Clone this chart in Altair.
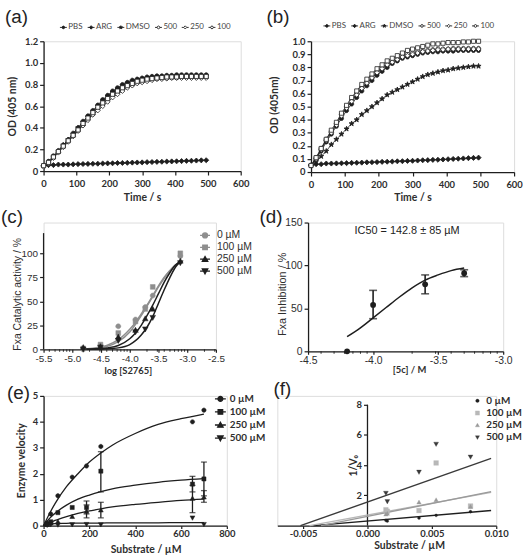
import altair as alt
import pandas as pd

INK = "#1e1e1e"
GREY = "#8e8e8e"
TXT = "#2e2e2e"
ARIAL = "Liberation Sans"
HUM = "Lato"

# ---------------- data ----------------
# (a), (b): absorbance time courses
time_s = [0, 15, 30, 45, 60, 75, 90, 105, 120, 135, 150, 165, 180, 195, 210, 225, 240,
          255, 270, 285, 300, 315, 330, 345, 360, 375, 390, 405, 420, 435, 450, 465, 480, 495]
ab_series = ["PBS", "ARG", "DMSO", "500", "250", "100"]

a_pbs = [.05, .09, .14, .19, .24, .29, .35, .40, .46, .51, .56, .61, .66, .70, .74, .77, .80,
         .82, .84, .85, .86, .87, .875, .88, .88, .885, .885, .89, .89, .89, .89, .89, .89, .89]
a_arg = [.05, .055, .055, .06, .06, .06, .062, .064, .065, .066, .067, .068, .07, .071, .072, .074, .075,
         .076, .078, .079, .08, .082, .083, .085, .086, .088, .089, .09, .092, .094, .095, .097, .099, .10]
a_dmso = [.05, .08, .13, .18, .24, .29, .34, .40, .45, .50, .55, .60, .65, .69, .73, .76, .79,
          .81, .83, .84, .85, .86, .865, .87, .87, .875, .875, .88, .88, .88, .88, .88, .88, .88]
a_500 = [.05, .08, .13, .18, .23, .28, .33, .38, .43, .48, .53, .58, .62, .66, .70, .73, .76,
         .78, .80, .82, .83, .84, .85, .855, .86, .86, .865, .865, .87, .87, .87, .87, .87, .87]
a_250 = [.04, .07, .12, .17, .22, .27, .32, .37, .42, .47, .52, .56, .60, .64, .68, .71, .74,
         .77, .79, .81, .82, .83, .84, .85, .85, .855, .86, .86, .86, .86, .86, .86, .86, .86]
a_100 = [.05, .08, .13, .18, .23, .28, .33, .38, .44, .49, .54, .59, .63, .67, .71, .74, .77,
         .79, .81, .83, .84, .85, .855, .86, .865, .87, .87, .87, .875, .875, .875, .875, .875, .875]

b_pbs = [.05, .10, .16, .23, .29, .35, .41, .47, .52, .57, .62, .66, .70, .74, .77, .80, .83,
         .85, .87, .88, .89, .90, .91, .915, .92, .92, .925, .925, .925, .93, .93, .93, .93, .93]
b_arg = [.05, .06, .06, .065, .065, .066, .067, .068, .07, .071, .072, .074, .075, .076, .078, .079, .08,
         .082, .083, .085, .086, .088, .09, .091, .093, .094, .096, .098, .10, .102, .104, .106, .108, .11]
b_dmso = [.05, .08, .12, .16, .21, .25, .29, .33, .37, .40, .44, .47, .50, .53, .56, .59, .61,
          .63, .65, .67, .69, .71, .73, .745, .755, .765, .775, .78, .79, .795, .80, .805, .81, .81]
b_500 = [.05, .11, .18, .25, .31, .37, .44, .50, .55, .60, .65, .69, .73, .77, .80, .83, .85,
         .87, .89, .90, .91, .92, .925, .93, .935, .94, .94, .94, .945, .945, .945, .945, .945, .945]
b_250 = [.05, .10, .17, .24, .30, .36, .43, .49, .54, .59, .64, .68, .72, .76, .79, .82, .84,
         .86, .88, .89, .90, .91, .92, .925, .93, .935, .935, .94, .94, .94, .94, .94, .94, .94]
b_100 = [.05, .11, .18, .25, .32, .38, .45, .51, .57, .62, .67, .71, .75, .79, .82, .85, .87,
         .89, .91, .93, .94, .95, .96, .97, .98, .98, .985, .99, .99, .99, .995, .995, 1.0, 1.0]

# (c): FXa activity vs log substrate
conc_series = ["0 µM", "100 µM", "250 µM", "500 µM"]
c_logS = [-4.81, -4.51, -4.20, -3.90, -3.73, -3.60, -3.12]
c_0 = [0, 4, 24, 31, 44, 56, 97]
c_100 = [1, 5, 17, 29, 42, 65, 100]
c_250 = [2, 3, 13, 20, 32, 42, 92]
c_500 = [0, 2, 9, 18, 21, 33, 90]
c_fit_x = [-4.81, -4.6, -4.4, -4.2, -4.0, -3.9, -3.8, -3.7, -3.6, -3.5, -3.4, -3.3, -3.2, -3.12]
c_fit_0 = [0.5, 1.5, 4, 10, 21, 28, 37, 46, 56, 66, 75, 82, 88, 91]
c_fit_100 = [0.3, 1, 3, 8, 18, 26, 35, 45, 55, 65, 74, 82, 88, 91]
c_fit_250 = [0, 0.5, 1.5, 4, 11, 17, 25, 35, 46, 58, 70, 80, 88, 91]
c_fit_500 = [0, 0.2, 0.5, 1.5, 5, 9, 15, 23, 34, 48, 62, 75, 86, 91]
c_minor = [-5.40, -5.30, -5.22, -5.155, -5.097, -5.046, -4.70, -4.52, -4.40, -4.30, -4.22, -4.155,
           -4.097, -4.046, -3.70, -3.52, -3.40, -3.30, -3.22, -3.155, -3.097, -3.046, -2.70, -2.52]

# (d): inhibition vs log [5c]
d_log5c = [-4.2, -4.0, -3.6, -3.3]
d_inhib = [0, 54, 78, 91]
d_err_x = [-4.0, -3.6, -3.3]
d_err_lo = [38, 67, 87]
d_err_hi = [71, 89, 95]
d_fit_x = [-4.2, -4.1, -4.0, -3.9, -3.8, -3.7, -3.6, -3.5, -3.4, -3.3]
d_fit_y = [17, 27, 39, 51, 63, 74, 83, 89, 94, 97]
d_minor = [-4.40, -4.30, -4.22, -4.155, -4.097, -4.046, -3.70, -3.52, -3.40, -3.30, -3.22,
           -3.155, -3.097, -3.046]

# (e): Michaelis-Menten velocities
e_sub = [15.6, 31.25, 62.5, 125, 187.5, 250, 650, 700]
e_0 = [0.1, 0.45, 1.15, 1.87, 2.3, 3.05, 4.0, 4.45]
e_100 = [0.05, 0.15, 0.5, 0.7, 0.7, 2.1, 1.6, 1.8]
e_250 = [0.05, 0.1, 0.15, 0.35, 0.55, 0.6, 1.05, 1.1]
e_500 = [0.02, 0.04, 0.03, 0.04, 0.05, 0.04, 0.3, 0.05]
e_err_x = [187.5, 187.5, 250, 250, 650, 650, 700, 700]
e_err_lo = [0.45, 0.3, 1.3, 0.3, 1.3, 0.5, 1.15, 0.9]
e_err_hi = [0.95, 0.8, 2.85, 0.9, 1.9, 1.55, 2.45, 1.35]
e_fit_x = [0, 25, 50, 100, 150, 200, 250, 300, 400, 500, 600, 700]
e_fit_0 = [0, 0.45, 0.85, 1.5, 2.0, 2.45, 2.8, 3.1, 3.55, 3.9, 4.12, 4.3]
e_fit_100 = [0, 0.27, 0.48, 0.79, 1.02, 1.18, 1.31, 1.42, 1.56, 1.67, 1.75, 1.81]
e_fit_250 = [0, 0.1, 0.2, 0.35, 0.47, 0.57, 0.65, 0.72, 0.82, 0.9, 0.97, 1.02]
e_fit_500 = [0, 0.06, 0.08, 0.09, 0.1, 0.1, 0.1, 0.11, 0.11, 0.11, 0.12, 0.12]

# (f): double-reciprocal plot
f_inv_s = [0.00143, 0.00154, 0.004, 0.00533, 0.008]
f_0 = [0.35, 0.3, 0.5, 0.68, 0.92]
f_100 = [1.05, 0.95, 1.0, 4.15, 1.3]
f_250 = [0.75, 0.8, 1.55, 1.7, 1.25]
f_500 = [2.15, 1.6, 3.55, 5.4, 4.55]
f_line_x0 = [-0.0042, -0.0045, -0.0036, -0.0052]
f_line_x1 = [0.0096, 0.0096, 0.0096, 0.0096]
f_line_y1 = [1.0, 2.2, 2.25, 4.45]


# ---------------- helpers ----------------
def long(xs, cols, names, xname, yname):
    rows = []
    for n, ys in zip(names, cols):
        for x, y in zip(xs, ys):
            rows.append({xname: x, yname: y, "s": n})
    return pd.DataFrame(rows)


def num(v):
    return f"{v:.3f}".rstrip("0").rstrip(".")


def circle_path(r):
    return f"M{num(r)},0A{num(r)},{num(r)} 0 1,1 {num(-r)},0A{num(r)},{num(r)} 0 1,1 {num(r)},0Z"


def square_path(r):
    return f"M{num(-r)},{num(-r)}H{num(r)}V{num(r)}H{num(-r)}Z"


def diamond_path(r):
    return f"M0,{num(-r)}L{num(r)},0L0,{num(r)}L{num(-r)},0Z"


def tri_up_path(r):
    return f"M0,{num(-r)}L{num(r)},{num(0.8 * r)}L{num(-r)},{num(0.8 * r)}Z"


def tri_down_path(r):
    return f"M0,{num(r)}L{num(r)},{num(-0.8 * r)}L{num(-r)},{num(-0.8 * r)}Z"


def star_path(r):
    pts = [(0, -1), (0.24, -0.33), (0.95, -0.31), (0.38, 0.12), (0.59, 0.81), (0, 0.4),
           (-0.59, 0.81), (-0.38, 0.12), (-0.95, -0.31), (-0.24, -0.33)]
    return "M" + "L".join(f"{num(x * r)},{num(y * r)}" for x, y in pts) + "Z"


def stub(marker, r, hollow=False):
    if hollow:
        return f"M-1,0H{num(-r)}M{num(r)},0H1" + marker
    return "M-1,0H1" + marker


def axis(**kw):
    base = dict(grid=False, domainColor=INK, domainWidth=1.3, tickColor=INK, tickWidth=1.2,
                tickSize=4, labelColor=TXT, titleColor=TXT, labelPadding=2, titleAlign="center",
                titleBaseline="middle", labelFlush=False, labelOverlap=False)
    base.update(kw)
    return alt.Axis(**base)


BOLD = dict(labelFont=HUM, labelFontWeight="bold", labelFontSize=9.5,
            titleFont=HUM, titleFontWeight="bold", titleFontSize=10.5)
PLAIN = dict(labelFont=ARIAL, labelFontWeight="normal", labelFontSize=10,
             titleFont=ARIAL, titleFontWeight="normal", titleFontSize=10.5)

one = pd.DataFrame({"k": [0]})


def tag(text, dx, dy):
    return alt.Chart(one).mark_text(text=text, align="left", baseline="alphabetic", font=ARIAL,
                                    fontSize=19, color="#222").encode(x=alt.value(dx), y=alt.value(dy))


def legend_layer(names, shapes, fills, strokes, **kw):
    df = pd.DataFrame({"entry": names})
    leg = alt.Legend(title=None, orient="none", padding=0, **kw)

    def sc(rng):
        return alt.Scale(domain=names, range=rng)

    return alt.Chart(df).transform_filter("false").mark_point(filled=True, opacity=1).encode(
        shape=alt.Shape("entry:N", scale=sc(shapes), legend=leg),
        fill=alt.Fill("entry:N", scale=sc(fills), legend=leg),
        stroke=alt.Stroke("entry:N", scale=sc(strokes), legend=leg),
    )


# ---------------- (a) and (b) ----------------
ab_markers = [circle_path(0.85), diamond_path(1.05), star_path(1.1),
              circle_path(0.9), diamond_path(1), square_path(0.85)]
ab_fills = [INK, INK, INK, "white", "white", "white"]
ab_leg_shapes = [stub(circle_path(0.38), 0.38), stub(diamond_path(0.5), 0.5),
                 stub(star_path(0.5), 0.5), stub(circle_path(0.4), 0.4, True),
                 stub(diamond_path(0.45), 0.45, True), stub(circle_path(0.4), 0.4, True)]


def od_panel(letter, cols, w, h, ymax, yvals, ytitle, ytx, yty, xty, legx, legy, tx, ty):
    df = long(time_s, cols, ab_series, "t", "od")
    xa = axis(values=[0, 100, 200, 300, 400, 500, 600], title="Time / s",
              titleX=w / 2, titleY=xty, labelPadding=4, **BOLD)
    ya = axis(values=yvals, title=ytitle, titleX=ytx, titleY=yty,
              labelExpr="datum.value == 0 ? '0' : format(datum.value, '.1f')", **BOLD)
    X = alt.X("t:Q", scale=alt.Scale(domain=[0, 600], nice=False, zero=False), axis=xa)
    Y = alt.Y("od:Q", scale=alt.Scale(domain=[0, ymax], nice=False, zero=False), axis=ya)
    lines = alt.Chart(df).mark_line(color=INK, strokeWidth=0.8).encode(X, Y, detail="s:N")
    pts = [alt.Chart(df).transform_filter(alt.datum.s == n).mark_point(
        shape=m, filled=True, fill=f, stroke=INK, strokeWidth=0.8, size=24, opacity=1).encode(X, Y)
        for n, m, f in zip(ab_series, ab_markers, ab_fills)]
    leg = legend_layer(ab_series, ab_leg_shapes, ab_fills, [INK] * 6,
                       direction="horizontal", columns=6, gridAlign="none", legendX=legx, legendY=legy,
                       symbolSize=49, symbolStrokeWidth=0.9, labelFont=HUM, labelFontSize=8,
                       labelColor="#444", labelOffset=1, columnPadding=2)
    return alt.layer(lines, *pts, leg, tag(letter, tx, ty)).properties(width=w, height=h)


pa = od_panel("(a)", [a_pbs, a_arg, a_dmso, a_500, a_250, a_100], 199, 131, 1.2,
              [0, 0.2, 0.4, 0.6, 0.8, 1.0, 1.2], "OD (405 nm)", -31, 65.5, 27, 16, -18, -39, -18)
pb = od_panel("(b)", [b_pbs, b_arg, b_dmso, b_500, b_250, b_100], 205, 132, 1.0,
              [0, 0.1, 0.2, 0.3, 0.4, 0.5, 0.6, 0.7, 0.8, 0.9, 1.0], "OD (405nm)", -37, 64, 26,
              12, -19.5, -45, -18)

# ---------------- (c) ----------------
conc_shapes = [circle_path(0.9), square_path(0.85), tri_up_path(1), tri_down_path(1)]
c_colors = [GREY, GREY, INK, INK]
WC, HC = 174, 128
c_xa = axis(values=[-5.5, -5.0, -4.5, -4.0, -3.5, -3.0, -2.5], title="log [S2765]",
            labelExpr="replace(format(datum.value, '.1f'), '\u2212', '-')", tickSize=3, labelPadding=1,
            titleX=85, titleY=21.5, **dict(PLAIN, titleFont=HUM, titleFontWeight="bold",
                                          titleFontSize=9.5))
c_ya = axis(values=[0, 25, 50, 75, 100], title="Fxa Catalytic activity / %", domain=False,
            titleX=-26, titleY=72, **PLAIN)
c_xs = alt.Scale(domain=[-5.5, -2.5], nice=False, zero=False)
c_ys = alt.Scale(domain=[0, 132], nice=False, zero=False)
cX = alt.X("lx:Q", scale=c_xs, axis=c_xa)
cY = alt.Y("act:Q", scale=c_ys, axis=c_ya)
c_pts_df = long(c_logS, [c_0, c_100, c_250, c_500], conc_series, "lx", "act")
c_fit_df = long(c_fit_x, [c_fit_0, c_fit_100, c_fit_250, c_fit_500], conc_series, "lx", "act")
c_layers = []
for n, col in zip(conc_series, c_colors):
    c_layers.append(alt.Chart(c_fit_df).transform_filter(alt.datum.s == n).mark_line(
        color=col, strokeWidth=1.5, interpolate="monotone").encode(cX, cY))
for n, m, col in zip(conc_series, conc_shapes, c_colors):
    c_layers.append(alt.Chart(c_pts_df).transform_filter(alt.datum.s == n).mark_point(
        shape=m, filled=True, fill=col, stroke=col, strokeWidth=0.5, size=32, opacity=1).encode(cX, cY))
c_yline = alt.Chart(one).mark_rule(color=INK, strokeWidth=1.3).encode(
    x=alt.value(0), y=alt.Y(datum=0, scale=c_ys, axis=c_ya), y2=alt.Y2(datum=121))
c_ticks = alt.Chart(pd.DataFrame({"lx": c_minor})).mark_rule(color=INK, strokeWidth=0.9).encode(
    cX, y=alt.value(HC), y2=alt.value(HC + 2.5))
c_leg = legend_layer(conc_series, [stub(p, 0) for p in
                                   [circle_path(0.5), square_path(0.46), tri_up_path(0.55), tri_down_path(0.55)]],
                     c_colors, c_colors, direction="vertical", legendX=157, legendY=7,
                     symbolSize=100, symbolStrokeWidth=1.3, labelFont=ARIAL, labelFontSize=10.5,
                     labelColor=TXT, labelOffset=6, rowPadding=0)
pc = alt.layer(c_yline, c_ticks, *c_layers, c_leg, tag("(c)", -43, 0)).properties(width=WC, height=HC)

# ---------------- (d) ----------------
WD, HD = 197, 130
d_xa = axis(values=[-4.5, -4.0, -3.5, -3.0], title="[5c] / M",
            labelExpr="replace(format(datum.value, '.1f'), '\u2212', '-')", tickSize=3, labelPadding=1,
            titleX=102, titleY=18.5, **dict(PLAIN, labelFontSize=10.5, titleFont=HUM,
                                           titleFontWeight="bold", titleFontSize=9.5))
d_ya = axis(values=[0, 50, 100, 150], title="Fxa Inhibition / %", titleX=-26, titleY=72,
            **dict(PLAIN, labelFontSize=10.5, titleFontSize=11))
d_xs = alt.Scale(domain=[-4.5, -3.0], nice=False, zero=False)
d_ys = alt.Scale(domain=[0, 150], nice=False, zero=False)
dX = alt.X("lx:Q", scale=d_xs, axis=d_xa)
dY = alt.Y("inh:Q", scale=d_ys, axis=d_ya)
d_fit = alt.Chart(pd.DataFrame({"lx": d_fit_x, "inh": d_fit_y})).mark_line(
    color=INK, strokeWidth=1.5, interpolate="monotone").encode(dX, dY)
d_err_df = pd.DataFrame({"lx": d_err_x, "inh": d_err_lo, "hi": d_err_hi})
d_err = alt.Chart(d_err_df).mark_rule(color=INK, strokeWidth=1.6).encode(dX, dY, y2="hi:Q")
d_cap_lo = alt.Chart(d_err_df).mark_tick(color=INK, orient="horizontal", size=8, thickness=1.6).encode(dX, dY)
d_cap_hi = alt.Chart(d_err_df).mark_tick(color=INK, orient="horizontal", size=8, thickness=1.6).encode(
    dX, alt.Y("hi:Q", scale=d_ys, axis=d_ya))
d_pts = alt.Chart(pd.DataFrame({"lx": d_log5c, "inh": d_inhib})).mark_point(
    shape="circle", filled=True, color=INK, size=34, opacity=1).encode(dX, dY)
d_ticks = alt.Chart(pd.DataFrame({"lx": d_minor})).mark_rule(color=INK, strokeWidth=0.9).encode(
    dX, y=alt.value(HD), y2=alt.value(HD + 2.5))
d_note = alt.Chart(one).mark_text(text="IC50 = 142.8 \u00b1 85 \u00b5M", font=ARIAL, fontSize=11,
                                  color="#222", align="center", baseline="middle").encode(
    x=alt.value(100), y=alt.value(9))
pd_ = alt.layer(d_ticks, d_fit, d_err, d_cap_lo, d_cap_hi, d_pts, d_note, tag("(d)", -49, 0)).properties(
    width=WD, height=HD)

# ---------------- (e) ----------------
WE, HE = 185, 131
e_xa = axis(values=[0, 200, 400, 600, 800], title="Substrate / \u00b5M", titleX=103, titleY=24.5,
            tickSize=3, labelPadding=0, **BOLD)
e_ya = axis(values=[0, 1, 2, 3, 4, 5], title="Enzyme velocity", titleX=-22, titleY=65, **BOLD)
e_xs = alt.Scale(domain=[0, 800], nice=False, zero=False)
e_ys = alt.Scale(domain=[0, 5], nice=False, zero=False)
eX = alt.X("sub:Q", scale=e_xs, axis=e_xa)
eY = alt.Y("v:Q", scale=e_ys, axis=e_ya)
e_pts_df = long(e_sub, [e_0, e_100, e_250, e_500], conc_series, "sub", "v")
e_fit_df = long(e_fit_x, [e_fit_0, e_fit_100, e_fit_250, e_fit_500], conc_series, "sub", "v")
e_err_df = pd.DataFrame({"sub": e_err_x, "v": e_err_lo, "hi": e_err_hi})
e_layers = [alt.Chart(e_fit_df).mark_line(color=INK, strokeWidth=1.3, interpolate="monotone").encode(
    eX, eY, detail="s:N")]
e_layers.append(alt.Chart(e_err_df).mark_rule(color=INK, strokeWidth=1.3).encode(eX, eY, y2="hi:Q"))
e_layers.append(alt.Chart(e_err_df).mark_tick(color=INK, orient="horizontal", size=6, thickness=1.3).encode(eX, eY))
e_layers.append(alt.Chart(e_err_df).mark_tick(color=INK, orient="horizontal", size=6, thickness=1.3).encode(
    eX, alt.Y("hi:Q", scale=e_ys, axis=e_ya)))
e_shapes = [circle_path(0.9), square_path(0.85), tri_up_path(1), tri_down_path(1)]
for n, m in zip(conc_series, e_shapes):
    e_layers.append(alt.Chart(e_pts_df).transform_filter(alt.datum.s == n).mark_point(
        shape=m, filled=True, fill=INK, stroke=INK, strokeWidth=0.5, size=24, opacity=1).encode(eX, eY))
e_leg = legend_layer(conc_series, [stub(p, 0) for p in
                                   [circle_path(0.45), square_path(0.42), tri_up_path(0.5), tri_down_path(0.5)]],
                     [INK] * 4, [INK] * 4, direction="vertical", legendX=172, legendY=-3.5,
                     symbolSize=121, symbolStrokeWidth=1.3, labelFont=HUM, labelFontWeight="bold",
                     labelFontSize=10, labelColor=TXT, labelOffset=3, rowPadding=1.2)
pe = alt.layer(*e_layers, e_leg, tag("(e)", -37, 3)).properties(width=WE, height=HE)

# ---------------- (f) ----------------
WF, HF = 221, 131
f_colors = [INK, "#b8b8b8", "#9a9a9a", "#3a3a3a"]
f_xa = axis(values=[-0.005, 0.0, 0.005, 0.010], title="Substrate / \u00b5M",
            labelExpr="replace(format(datum.value, '.3f'), '\u2212', '-')",
            titleX=133, titleY=20, tickSize=3, labelPadding=0, **BOLD)
f_ya = axis(values=[2, 4, 6, 8], title="1/V\u2080", domain=False, offset=-91,
            titleX=-14, titleY=70, **BOLD)
f_xs = alt.Scale(domain=[-0.007, 0.010], nice=False, zero=False)
f_ys = alt.Scale(domain=[0, 8.59], nice=False, zero=False)
fX = alt.X("inv:Q", scale=f_xs, axis=f_xa)
fY = alt.Y("r:Q", scale=f_ys, axis=f_ya)
f_pts_df = long(f_inv_s, [f_0, f_100, f_250, f_500], conc_series, "inv", "r")
f_line_df = pd.DataFrame([
    {"inv": x, "r": y, "s": n}
    for n, x0, x1, y1 in zip(conc_series, f_line_x0, f_line_x1, f_line_y1)
    for x, y in ((x0, 0.0), (x1, y1))
])
f_layers = [alt.Chart(one).mark_rule(color=INK, strokeWidth=1.3).encode(
    x=alt.X(datum=0, scale=f_xs, axis=f_xa), y=alt.Y(datum=0, scale=f_ys, axis=f_ya), y2=alt.Y2(datum=8))]
for n, col in zip(conc_series, f_colors):
    f_layers.append(alt.Chart(f_line_df).transform_filter(alt.datum.s == n).mark_line(
        color=col, strokeWidth=1.4).encode(fX, fY))
f_shapes = [circle_path(0.8), square_path(0.9), tri_up_path(1), tri_down_path(1)]
f_sizes = [14, 28, 20, 24]
for n, m, col, sz in zip(conc_series, f_shapes, f_colors, f_sizes):
    f_layers.append(alt.Chart(f_pts_df).transform_filter(alt.datum.s == n).mark_point(
        shape=m, filled=True, fill=col, stroke=col, strokeWidth=0.3, size=sz, opacity=1).encode(fX, fY))
f_leg = legend_layer(conc_series, [circle_path(0.5), square_path(0.6), tri_up_path(0.6), tri_down_path(0.6)],
                     f_colors, f_colors, direction="vertical", legendX=197, legendY=0,
                     symbolSize=49, symbolStrokeWidth=0.3, labelFont=HUM, labelFontWeight="bold",
                     labelFontSize=10, labelColor=TXT, labelOffset=4, rowPadding=2.3)
pf = alt.layer(*f_layers, f_leg, tag("(f)", -4, -1)).properties(width=WF, height=HF)

# ---------------- layout ----------------
IND = dict(shape="independent", fill="independent", stroke="independent")
row1 = alt.hconcat(pa, pb, spacing=71, bounds="flush").resolve_scale(**IND)
row2 = alt.hconcat(pc, pd_, spacing=93, bounds="flush").resolve_scale(**IND)
row3 = alt.hconcat(pe, pf, spacing=51, bounds="flush").resolve_scale(**IND)

chart = alt.vconcat(row1, row2, row3, spacing=3).resolve_scale(**IND).properties(
    padding={"left": 0, "top": 5, "right": 0, "bottom": 0}
).configure_view(strokeWidth=0).configure(background="white")

chart.save("out.html", embed_options={"renderer": "svg", "actions": False})
